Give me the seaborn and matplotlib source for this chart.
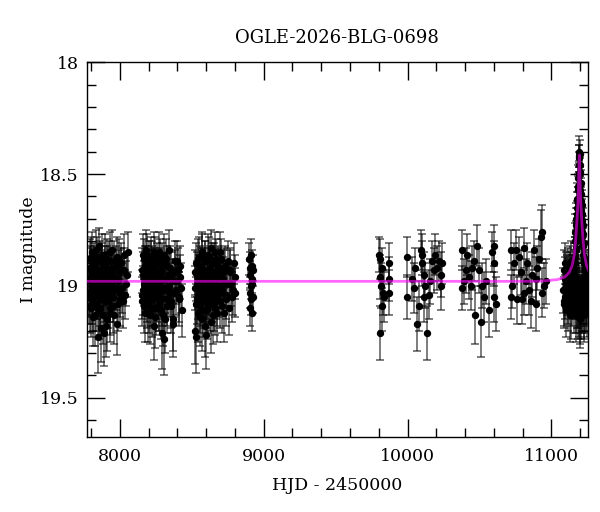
import numpy as np
import pandas as pd
import matplotlib
matplotlib.use("Agg")
import matplotlib.pyplot as plt
import seaborn as sns
from matplotlib.ticker import MultipleLocator, FuncFormatter

# photometry, arrays per observing season (HJD - 2450000, I mag, error)
t1 = [7784, 7788, 7793, 7797, 7800, 7806, 7810, 7813, 7819, 7823,
      7827, 7832, 7836, 7839, 7845, 7850, 7853, 7858, 7863, 7866,
      7872, 7877, 7880, 7886, 7891, 7894, 7900, 7905, 7909, 7914,
      7918, 7924, 7929, 7932, 7938, 7944, 7949, 7953, 7960, 7966,
      7971, 7978, 7985, 7991, 7998, 8006, 8015, 8026, 8038, 8052]
m1 = [18.97, 19.05, 18.88, 19.10, 18.93, 19.02, 18.85, 19.08, 18.99, 18.91,
      19.13, 18.96, 19.04, 18.87, 19.00, 18.94, 19.11, 18.82, 19.06, 18.98,
      19.19, 18.90, 19.03, 18.95, 19.21, 19.07, 18.86, 19.01, 18.92, 19.15,
      18.97, 18.89, 19.05, 19.12, 18.94, 19.00, 18.84, 19.09, 18.96, 19.02,
      18.91, 19.17, 18.98, 18.88, 19.06, 18.93, 19.01, 18.86, 19.04, 18.95]
e1 = [0.10, 0.12, 0.09, 0.13, 0.10, 0.11, 0.09, 0.12, 0.10, 0.09,
      0.14, 0.10, 0.11, 0.09, 0.10, 0.10, 0.13, 0.08, 0.12, 0.10,
      0.15, 0.09, 0.11, 0.10, 0.15, 0.12, 0.09, 0.11, 0.10, 0.14,
      0.10, 0.09, 0.11, 0.13, 0.10, 0.10, 0.09, 0.12, 0.10, 0.11,
      0.09, 0.14, 0.10, 0.09, 0.12, 0.10, 0.11, 0.09, 0.11, 0.10]
t1b = [7786, 7791, 7795, 7799, 7803, 7808, 7811, 7816, 7821, 7825,
       7829, 7834, 7838, 7842, 7847, 7851, 7856, 7860, 7864, 7869,
       7874, 7878, 7883, 7888, 7892, 7897, 7902, 7907, 7911, 7916,
       7921, 7926, 7930, 7935, 7940, 7946, 7951, 7957, 7963, 7969,
       7975, 7981, 7988, 7995, 8002, 8010, 8020, 8032, 8045, 8056]
m1b = [19.03, 18.92, 19.09, 18.98, 18.87, 19.06, 18.95, 19.14, 18.90, 19.01,
       18.96, 19.08, 18.84, 19.04, 18.93, 19.23, 18.99, 18.89, 19.10, 18.94,
       19.02, 18.86, 19.13, 18.97, 19.05, 18.91, 19.18, 18.99, 18.88, 19.07,
       18.95, 19.03, 18.85, 19.10, 18.98, 18.92, 19.05, 18.89, 19.13, 18.97,
       19.01, 18.87, 19.08, 18.94, 19.03, 18.90, 19.07, 18.93, 18.99, 18.85]
e1b = [0.11, 0.10, 0.12, 0.10, 0.09, 0.11, 0.10, 0.13, 0.09, 0.10,
       0.10, 0.12, 0.09, 0.11, 0.10, 0.16, 0.10, 0.09, 0.12, 0.10,
       0.11, 0.09, 0.13, 0.10, 0.11, 0.09, 0.14, 0.10, 0.09, 0.12,
       0.10, 0.11, 0.09, 0.12, 0.10, 0.09, 0.11, 0.09, 0.13, 0.10,
       0.10, 0.09, 0.12, 0.10, 0.11, 0.09, 0.12, 0.10, 0.10, 0.09]

t2 = [8151, 8156, 8162, 8165, 8171, 8174, 8180, 8184, 8187, 8193,
      8196, 8202, 8205, 8211, 8214, 8220, 8223, 8230, 8232, 8239,
      8241, 8248, 8251, 8257, 8260, 8267, 8269, 8276, 8279, 8286,
      8289, 8296, 8301, 8305, 8313, 8317, 8325, 8330, 8339, 8344,
      8353, 8359, 8369, 8376, 8387, 8394, 8405, 8412, 8420, 8429]
m2 = [18.93, 19.04, 18.86, 18.99, 19.09, 18.91, 19.02, 18.84, 19.07, 18.96,
      19.12, 18.89, 19.01, 18.94, 19.06, 18.87, 19.10, 18.98, 18.92, 19.03,
      18.85, 19.14, 18.97, 19.05, 18.90, 19.00, 19.08, 18.88, 18.95, 19.11,
      18.93, 19.21, 19.02, 18.86, 19.15, 18.97, 19.06, 18.91, 19.00, 18.84,
      19.09, 18.95, 19.15, 19.03, 18.89, 18.98, 18.93, 19.05, 18.91, 19.11]
e2 = [0.10, 0.11, 0.09, 0.10, 0.12, 0.09, 0.11, 0.09, 0.12, 0.10,
      0.13, 0.09, 0.11, 0.10, 0.12, 0.09, 0.13, 0.10, 0.09, 0.11,
      0.09, 0.14, 0.10, 0.11, 0.09, 0.10, 0.12, 0.09, 0.10, 0.13,
      0.10, 0.16, 0.11, 0.09, 0.15, 0.10, 0.12, 0.09, 0.10, 0.09,
      0.12, 0.10, 0.14, 0.11, 0.09, 0.10, 0.10, 0.11, 0.09, 0.12]
t2b = [8153, 8159, 8163, 8168, 8172, 8177, 8181, 8186, 8190, 8195,
       8199, 8204, 8208, 8212, 8217, 8221, 8226, 8228, 8235, 8237,
       8244, 8246, 8253, 8255, 8262, 8264, 8271, 8273, 8281, 8283,
       8291, 8293, 8298, 8303, 8309, 8315, 8321, 8327, 8334, 8341,
       8348, 8356, 8363, 8372, 8381, 8390, 8399, 8408, 8416, 8425]
m2b = [19.07, 18.95, 19.02, 18.88, 19.12, 18.98, 18.91, 19.05, 18.86, 19.00,
       18.94, 19.09, 18.97, 19.13, 18.89, 19.03, 18.92, 19.06, 19.18, 18.96,
       19.01, 18.87, 19.10, 18.93, 19.04, 18.99, 18.85, 19.08, 19.02, 18.94,
       19.06, 18.90, 19.13, 18.97, 19.24, 19.01, 18.88, 19.09, 18.95, 19.03,
       18.92, 19.07, 18.98, 19.17, 18.94, 19.02, 18.89, 19.06, 18.96, 19.01]
e2b = [0.11, 0.10, 0.11, 0.09, 0.13, 0.10, 0.09, 0.11, 0.09, 0.10,
       0.10, 0.12, 0.10, 0.13, 0.09, 0.11, 0.10, 0.12, 0.15, 0.10,
       0.11, 0.09, 0.12, 0.10, 0.11, 0.10, 0.09, 0.12, 0.11, 0.10,
       0.12, 0.09, 0.14, 0.10, 0.16, 0.11, 0.09, 0.12, 0.10, 0.11,
       0.10, 0.12, 0.10, 0.15, 0.10, 0.11, 0.09, 0.12, 0.10, 0.11]

t3 = [8522, 8526, 8531, 8534, 8539, 8543, 8548, 8551, 8556, 8560,
      8565, 8568, 8573, 8577, 8582, 8585, 8590, 8594, 8599, 8603,
      8607, 8612, 8616, 8621, 8625, 8630, 8634, 8639, 8644, 8648,
      8653, 8658, 8663, 8668, 8673, 8678, 8684, 8690, 8696, 8702,
      8709, 8716, 8723, 8731, 8740, 8752, 8763, 8775, 8788, 8798]
m3 = [19.01, 19.20, 18.90, 19.06, 18.95, 19.12, 18.87, 19.03, 18.98, 19.09,
      18.92, 19.15, 18.85, 19.00, 19.07, 18.94, 19.18, 18.89, 19.04, 18.97,
      19.11, 18.86, 19.02, 18.93, 19.08, 18.99, 18.83, 19.05, 18.96, 19.13,
      18.90, 19.01, 19.10, 18.88, 18.97, 19.06, 18.92, 19.03, 18.85, 19.00,
      19.09, 18.94, 19.12, 18.91, 19.04, 18.89, 18.93, 18.99, 19.02, 18.96]
e3 = [0.10, 0.15, 0.09, 0.11, 0.10, 0.13, 0.09, 0.11, 0.10, 0.12,
      0.09, 0.14, 0.09, 0.10, 0.12, 0.10, 0.14, 0.09, 0.11, 0.10,
      0.13, 0.09, 0.11, 0.10, 0.12, 0.10, 0.08, 0.11, 0.10, 0.13,
      0.09, 0.10, 0.12, 0.09, 0.10, 0.12, 0.09, 0.11, 0.09, 0.10,
      0.12, 0.10, 0.13, 0.09, 0.11, 0.09, 0.10, 0.10, 0.11, 0.10]
t3b = [8524, 8528, 8533, 8537, 8541, 8546, 8550, 8554, 8558, 8563,
       8567, 8571, 8575, 8580, 8584, 8588, 8592, 8597, 8601, 8605,
       8610, 8614, 8619, 8623, 8628, 8632, 8637, 8641, 8646, 8651,
       8656, 8661, 8666, 8671, 8676, 8681, 8687, 8693, 8699, 8706,
       8712, 8719, 8727, 8735, 8745, 8757, 8769, 8781, 8793, 8801]
m3b = [18.94, 19.08, 19.23, 18.99, 18.88, 19.04, 18.96, 19.14, 18.91, 19.02,
       19.06, 18.86, 18.97, 19.11, 18.93, 19.03, 18.89, 19.07, 19.22, 18.95,
       19.00, 19.09, 18.87, 19.05, 18.92, 19.16, 18.98, 18.90, 19.02, 18.94,
       19.08, 18.85, 19.04, 18.96, 19.12, 18.91, 19.00, 18.95, 19.07, 18.88,
       19.02, 18.97, 18.92, 19.06, 18.99, 19.10, 18.94, 19.05, 18.90, 19.03]
e3b = [0.10, 0.12, 0.16, 0.10, 0.09, 0.11, 0.10, 0.13, 0.09, 0.11,
       0.12, 0.09, 0.10, 0.12, 0.10, 0.11, 0.09, 0.12, 0.15, 0.10,
       0.10, 0.12, 0.09, 0.11, 0.10, 0.14, 0.10, 0.09, 0.11, 0.10,
       0.12, 0.09, 0.11, 0.10, 0.13, 0.09, 0.10, 0.10, 0.12, 0.09,
       0.11, 0.10, 0.09, 0.12, 0.10, 0.12, 0.10, 0.11, 0.09, 0.11]

t4 = [8900, 8902, 8904, 8906, 8908, 8910, 8912, 8914, 8916, 8918, 8920, 8922, 8924, 8926]
m4 = [18.88, 19.03, 18.95, 19.10, 18.92, 19.00, 18.86, 19.06, 18.97, 18.91, 19.12, 18.99, 18.93, 19.05]
e4 = [0.07, 0.07, 0.06, 0.08, 0.07, 0.06, 0.07, 0.07, 0.06, 0.07, 0.08, 0.06, 0.07, 0.07]

t5 = [9799, 9805, 9810, 9810, 9815, 9822, 9823, 9830, 9834, 9869, 9869, 9869]
m5 = [18.86, 18.96, 18.88, 19.21, 19.00, 19.09, 18.92, 19.03, 19.05, 18.90, 18.97, 19.03]
e5 = [0.08, 0.10, 0.09, 0.12, 0.10, 0.11, 0.09, 0.10, 0.11, 0.09, 0.10, 0.10]

t6 = [9997, 9997, 10032, 10043, 10055, 10067, 10078, 10090, 10101, 10101,
      10113, 10113, 10124, 10136, 10147, 10159, 10171, 10182, 10194, 10205,
      10217, 10229, 10229, 10240]
m6 = [18.87, 19.05, 18.97, 19.01, 18.92, 19.17, 19.09, 18.84, 18.86, 18.90,
      18.95, 19.05, 19.00, 19.21, 19.04, 18.98, 18.89, 18.93, 18.86, 18.92,
      18.89, 19.00, 18.95, 18.90]
e6 = [0.09, 0.10, 0.10, 0.11, 0.09, 0.12, 0.11, 0.09, 0.09, 0.10,
      0.10, 0.11, 0.10, 0.12, 0.11, 0.10, 0.09, 0.10, 0.09, 0.10,
      0.09, 0.11, 0.10, 0.09]

t7 = [10380, 10380, 10392, 10403, 10415, 10426, 10438, 10449, 10461, 10472,
      10484, 10496, 10507, 10519, 10530, 10542, 10565, 10589, 10600, 10600,
      10600, 10612]
m7 = [18.84, 19.01, 18.98, 18.93, 18.86, 18.96, 19.00, 18.92, 18.89, 19.13,
      18.82, 18.93, 19.16, 19.00, 19.05, 18.98, 19.11, 18.85, 18.82, 18.90,
      19.05, 19.08]
e7 = [0.09, 0.10, 0.10, 0.10, 0.09, 0.10, 0.11, 0.10, 0.09, 0.13,
      0.09, 0.10, 0.16, 0.10, 0.11, 0.10, 0.12, 0.09, 0.09, 0.10,
      0.11, 0.12]

t8 = [10716, 10716, 10727, 10739, 10751, 10762, 10774, 10785, 10797, 10808,
      10808, 10820, 10832, 10843, 10855, 10866, 10878, 10890, 10890, 10901,
      10913, 10924, 10936, 10936, 10948, 10959]
m8 = [18.84, 19.05, 19.00, 18.90, 18.84, 19.06, 18.87, 18.94, 19.06, 18.83,
      19.03, 18.98, 18.90, 19.02, 19.07, 18.95, 18.84, 18.97, 19.08, 18.92,
      18.88, 18.78, 18.76, 19.03, 19.00, 18.98]
e8 = [0.09, 0.10, 0.10, 0.09, 0.09, 0.11, 0.09, 0.10, 0.11, 0.09,
      0.10, 0.10, 0.09, 0.11, 0.12, 0.10, 0.09, 0.10, 0.12, 0.10,
      0.09, 0.12, 0.12, 0.11, 0.10, 0.10]

t9 = [11082, 11085, 11088, 11091, 11094, 11097, 11100, 11104, 11107, 11110,
      11114, 11118, 11122, 11126, 11130, 11134, 11138, 11142, 11146, 11150,
      11155, 11160, 11163, 11165, 11168, 11170, 11172, 11174, 11176, 11178,
      11180, 11181, 11184, 11185, 11187, 11189, 11190, 11193, 11196, 11197,
      11199, 11201, 11202, 11205, 11207, 11209, 11211, 11213, 11216, 11218,
      11221, 11224, 11227, 11230, 11233, 11236, 11239, 11242, 11245, 11248]
m9 = [19.02, 18.93, 19.08, 18.97, 19.05, 18.90, 19.00, 19.11, 18.95, 19.03,
      18.92, 19.06, 18.98, 19.13, 18.94, 19.01, 18.89, 19.07, 18.96, 19.04,
      18.93, 18.90, 19.05, 18.86, 19.10, 18.83, 18.98, 18.78, 19.08, 18.72,
      19.02, 18.68, 18.62, 19.12, 18.57, 19.00, 18.50, 18.42, 18.46, 19.07,
      18.55, 19.14, 18.62, 18.66, 19.03, 18.71, 19.10, 18.76, 18.99, 18.82,
      19.06, 18.88, 19.12, 18.93, 19.04, 19.02, 19.09, 18.96, 19.01, 19.06]
e9 = [0.10, 0.09, 0.11, 0.10, 0.10, 0.09, 0.10, 0.12, 0.09, 0.10,
      0.09, 0.11, 0.10, 0.12, 0.09, 0.10, 0.09, 0.11, 0.10, 0.10,
      0.09, 0.09, 0.10, 0.08, 0.11, 0.08, 0.10, 0.07, 0.11, 0.07,
      0.10, 0.06, 0.06, 0.12, 0.06, 0.10, 0.05, 0.05, 0.05, 0.11,
      0.06, 0.12, 0.06, 0.06, 0.10, 0.07, 0.11, 0.07, 0.10, 0.08,
      0.11, 0.08, 0.12, 0.09, 0.10, 0.10, 0.11, 0.09, 0.10, 0.11]
t9b = [11090, 11102, 11112, 11120, 11128, 11136, 11144, 11152, 11158, 11166,
       11173, 11179, 11183, 11186, 11191, 11195, 11198, 11203, 11206, 11210,
       11214, 11219, 11223, 11228, 11232, 11238, 11243, 11247, 11250, 11251]
m9b = [19.07, 18.94, 19.09, 19.00, 18.91, 19.12, 18.97, 19.05, 19.10, 18.99,
       19.13, 19.04, 19.08, 18.97, 19.11, 19.02, 19.15, 19.06, 19.12, 18.98,
       19.09, 19.03, 19.13, 19.01, 19.10, 18.97, 19.07, 19.11, 19.00, 18.94]
e9b = [0.11, 0.09, 0.11, 0.10, 0.09, 0.12, 0.10, 0.10, 0.11, 0.10,
       0.12, 0.10, 0.11, 0.10, 0.12, 0.10, 0.13, 0.11, 0.12, 0.10,
       0.11, 0.10, 0.12, 0.10, 0.11, 0.10, 0.11, 0.12, 0.10, 0.09]
# dense coverage across the peak
t9c = [11160, 11162, 11164, 11166, 11167, 11169, 11171, 11173, 11175, 11177,
       11179, 11181, 11182, 11184, 11185, 11187, 11188, 11190, 11191, 11192,
       11194, 11195, 11196, 11197, 11199, 11200, 11202, 11203, 11205, 11207,
       11209, 11211, 11213, 11215, 11217, 11219, 11222, 11225, 11228, 11232]
m9c = [18.95, 18.80, 18.90, 18.76, 18.87, 18.73, 18.84, 18.70, 18.80, 18.65,
       18.76, 18.61, 18.72, 18.56, 18.68, 18.52, 18.63, 18.46, 18.55, 18.43,
       18.40, 18.50, 18.41, 18.57, 18.49, 18.64, 18.54, 18.69, 18.59, 18.74,
       18.64, 18.78, 18.68, 18.82, 18.73, 18.86, 18.77, 18.90, 18.81, 18.93]
e9c = [0.09, 0.08, 0.09, 0.08, 0.09, 0.08, 0.08, 0.07, 0.08, 0.07,
       0.08, 0.07, 0.07, 0.06, 0.07, 0.06, 0.07, 0.06, 0.06, 0.06,
       0.07, 0.06, 0.06, 0.06, 0.06, 0.07, 0.06, 0.07, 0.07, 0.07,
       0.07, 0.08, 0.07, 0.08, 0.08, 0.08, 0.08, 0.09, 0.08, 0.09]

# model light curve, knots
model_t = [7700, 10900, 10944, 11044, 11094, 11124, 11144, 11159, 11169, 11176,
           11180, 11184, 11188, 11191, 11194, 11197, 11200, 11204, 11208, 11212,
           11219, 11229, 11244, 11264, 11294, 11344, 11444]
model_mag = [18.980, 18.980, 18.978, 18.972, 18.960, 18.940, 18.910, 18.860, 18.790, 18.720,
             18.680, 18.630, 18.560, 18.480, 18.415, 18.480, 18.560, 18.630, 18.680, 18.720,
             18.790, 18.860, 18.910, 18.940, 18.960, 18.972, 18.978]

seasons = [(t1, m1, e1), (t1b, m1b, e1b), (t2, m2, e2), (t2b, m2b, e2b),
           (t3, m3, e3), (t3b, m3b, e3b), (t4, m4, e4), (t5, m5, e5),
           (t6, m6, e6), (t7, m7, e7), (t8, m8, e8), (t9, m9, e9),
           (t9b, m9b, e9b), (t9c, m9c, e9c)]
df = pd.concat([pd.DataFrame({"hjd": t, "mag": m, "err": e}) for t, m, e in seasons],
               ignore_index=True)

sns.set_theme(style="ticks")
plt.rcParams["font.family"] = ["DejaVu Serif"]
plt.rcParams["text.color"] = "black"
plt.rcParams["axes.labelcolor"] = "black"
plt.rcParams["xtick.color"] = "black"
plt.rcParams["ytick.color"] = "black"

fig = plt.figure(figsize=(6, 5.12), dpi=100)
ax = fig.add_axes([0.145, 0.147, 0.8345, 0.7315])

ax.errorbar(df["hjd"], df["mag"], yerr=df["err"], fmt="none", ecolor="black",
            alpha=0.6, elinewidth=1.2, capsize=3, capthick=1.2, zorder=2)
sns.scatterplot(data=df, x="hjd", y="mag", color="black", s=28, linewidth=0,
                ax=ax, zorder=3)
sns.lineplot(x=model_t, y=model_mag, color="magenta", alpha=0.6, lw=2,
             estimator=None, ax=ax, zorder=4)

ax.set_xlim(7772, 11252)
ax.set_ylim(19.675, 18.0)
ax.xaxis.set_major_locator(MultipleLocator(1000))
ax.xaxis.set_minor_locator(MultipleLocator(200))
ax.yaxis.set_major_locator(MultipleLocator(0.5))
ax.yaxis.set_minor_locator(MultipleLocator(0.1))
ax.yaxis.set_major_formatter(FuncFormatter(lambda v, p: f"{v:g}"))
ax.tick_params(which="both", direction="in", top=True, right=True,
               width=1, color="black", labelcolor="black", labelsize=12.5)
ax.tick_params(which="major", length=13)
ax.tick_params(which="minor", length=6.5)
ax.tick_params(axis="x", which="major", pad=8)
ax.tick_params(axis="y", which="major", pad=6)
for s in ax.spines.values():
    s.set_linewidth(1)
    s.set_color("black")

ax.set_title("OGLE-2026-BLG-0698", fontsize=13, pad=14, color="black")
ax.set_xlabel("HJD - 2450000", fontsize=12.5, labelpad=9)
ax.set_ylabel("I magnitude", fontsize=12.5, labelpad=2)

fig.savefig("out.png", dpi=100)
